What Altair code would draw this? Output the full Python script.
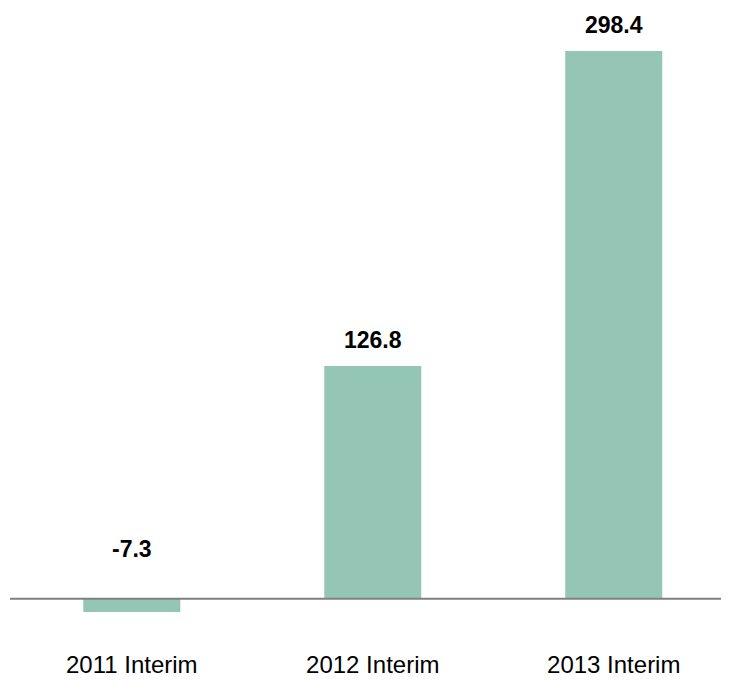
import altair as alt
import pandas as pd

categories = ["2011 Interim", "2012 Interim", "2013 Interim"]
values = [-7.3, 126.8, 298.4]
labels = ["-7.3", "126.8", "298.4"]

df = pd.DataFrame({"cat": categories, "val": values, "lab": labels})

FONT = "Liberation Sans"

x_enc = alt.X(
    "cat:N",
    sort=categories,
    scale=alt.Scale(paddingInner=0.5975, paddingOuter=0.274, align=0.555),
    axis=alt.Axis(
        title=None, labelAngle=0, domain=False, ticks=False, tickSize=0,
        labelFont=FONT, labelFontSize=24, labelColor="#000000",
        labelPadding=32, labelBaseline="alphabetic",
    ),
)
y_scale = alt.Scale(domain=[-22.5, 321.8], nice=False, zero=False)

base = alt.Chart(df)

bars = base.mark_bar(color="#95C5B4").encode(
    x=x_enc,
    y=alt.Y("val:Q", scale=y_scale, axis=None),
    y2=alt.datum(0),
)

zero_line = alt.Chart(pd.DataFrame({"z": [0]})).mark_rule(
    color="#808080", strokeWidth=2
).encode(y=alt.Y("z:Q", scale=y_scale))

pos_text = base.transform_filter("datum.val >= 0").mark_text(
    font=FONT, fontSize=23, fontWeight="bold", color="#000000",
    baseline="alphabetic", dy=-18,
).encode(
    x=x_enc,
    y=alt.Y("val:Q", scale=y_scale),
    text="lab:N",
)

neg_text = base.transform_filter("datum.val < 0").transform_calculate(
    zero="0"
).mark_text(
    font=FONT, fontSize=23, fontWeight="bold", color="#000000",
    baseline="alphabetic", dy=-42,
).encode(
    x=x_enc,
    y=alt.Y("zero:Q", scale=y_scale),
    text="lab:N",
)

chart = alt.layer(bars, zero_line, pos_text, neg_text).properties(
    width=711,
    height=632,
    autosize=alt.AutoSizeParams(type="none"),
    padding={"left": 2, "top": 0, "right": 0, "bottom": 38},
    background="#ffffff",
).configure_view(strokeWidth=0, stroke="transparent")

chart.save("out.html", embed_options={"renderer": "svg", "actions": False})
